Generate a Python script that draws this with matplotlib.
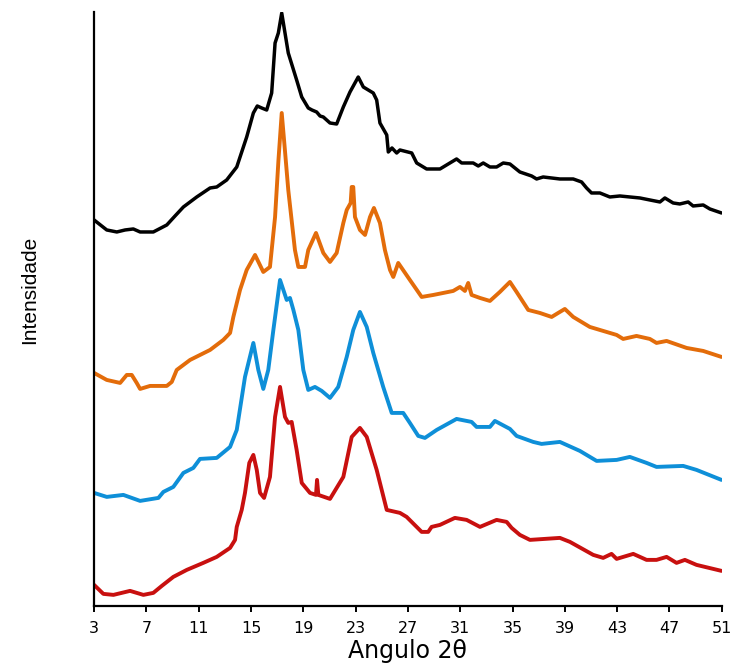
"""Stacked XRD patterns (intensity vs 2-theta) for four samples."""
import numpy as np
import matplotlib
matplotlib.use("Agg")
import matplotlib.pyplot as plt

# 2-theta (deg) and stacked intensity (a.u.) for each pattern, top to bottom
x_black = [3.00, 3.97, 4.74, 5.37, 6.00, 6.52, 7.53, 8.56, 9.19, 9.83, 10.85, 11.87,
           12.38, 13.14, 13.91, 14.29, 14.67, 15.18, 15.48, 15.82, 16.20, 16.58, 16.84,
           17.09, 17.35, 17.60, 17.85, 18.49, 18.88, 19.38, 19.66, 20.02, 20.28, 20.53,
           21.04, 21.55, 22.06, 22.57, 23.20, 23.59, 24.35, 24.61, 24.86, 25.38, 25.50,
           25.78, 26.14, 26.39, 27.29, 27.67, 28.43, 29.45, 30.21, 30.72, 31.11, 31.99,
           32.38, 32.76, 33.27, 33.78, 34.29, 34.80, 35.56, 36.46, 36.84, 37.34, 38.62,
           39.64, 40.28, 40.66, 41.04, 41.68, 42.44, 43.21, 43.97, 44.74, 45.50, 46.27,
           46.65, 47.28, 47.79, 48.43, 48.81, 49.58, 50.09, 50.98]
y_black = [386, 376, 374, 376, 377, 374, 374, 381, 390, 399, 409, 418,
           419, 426, 439, 454, 469, 493, 500, 498, 496, 513, 563,
           573, 593, 573, 553, 526, 509, 498, 496, 494, 490, 489,
           483, 482, 499, 514, 529, 519, 513, 506, 483, 471, 454,
           458, 453, 456, 453, 443, 437, 437, 443, 447, 443, 443,
           440, 443, 439, 439, 443, 442, 434, 430, 427, 429, 427,
           427, 424, 418, 413, 413, 409, 410, 409, 408, 406, 404,
           408, 403, 402, 404, 400, 401, 397, 393]

x_orange = [3.00, 3.97, 4.99, 5.50, 5.88, 6.26, 6.52, 7.28, 8.56, 8.94, 9.32, 10.34,
            11.87, 12.88, 13.40, 13.65, 14.16, 14.67, 15.31, 15.94, 16.45, 16.84, 17.10,
            17.35, 17.56, 17.85, 18.36, 18.62, 19.13, 19.38, 19.97, 20.53, 21.04, 21.55,
            22.06, 22.32, 22.62, 22.70, 22.82, 22.95, 23.33, 23.72, 24.10, 24.40, 24.86,
            25.24, 25.63, 25.88, 26.26, 27.15, 28.05, 28.94, 30.46, 30.98, 31.36, 31.61,
            31.87, 32.51, 33.27, 34.03, 34.80, 35.31, 36.20, 37.09, 37.99, 38.49, 39.00,
            39.64, 40.91, 42.19, 42.96, 43.46, 44.48, 45.50, 46.01, 46.78, 48.31, 49.58,
            50.98]
y_orange = [233, 226, 223, 231, 231, 223, 217, 220, 220, 224, 236, 246,
            256, 266, 273, 289, 316, 336, 351, 334, 339, 389, 446,
            493, 461, 416, 356, 339, 339, 356, 373, 353, 344, 353,
            383, 396, 403, 419, 419, 389, 376, 371, 389, 398, 383,
            356, 336, 329, 343, 326, 309, 311, 315, 319, 315, 323,
            311, 308, 305, 314, 324, 314, 296, 293, 289, 293, 297,
            289, 279, 274, 271, 267, 270, 267, 263, 265, 258, 255,
            249]

x_blue = [3.00, 3.97, 5.24, 6.52, 7.92, 8.30, 9.06, 9.83, 10.59, 11.10, 12.38, 13.40,
          13.91, 14.54, 15.18, 15.56, 15.94, 16.32, 16.71, 17.22, 17.73, 17.98, 18.24,
          18.62, 19.00, 19.38, 19.89, 20.41, 21.04, 21.67, 22.32, 22.82, 23.33, 23.85,
          24.35, 25.11, 25.76, 26.64, 27.15, 27.79, 28.30, 29.20, 30.72, 31.87, 32.25,
          33.27, 33.65, 34.80, 35.31, 36.58, 37.22, 38.62, 40.15, 41.43, 42.96, 43.97,
          45.25, 46.01, 48.05, 49.07, 50.98]
y_blue = [113, 109, 111, 105, 108, 114, 119, 133, 138, 147, 148, 159,
          176, 229, 263, 236, 217, 236, 276, 326, 306, 308, 296,
          276, 236, 216, 219, 215, 208, 219, 249, 276, 294, 279,
          253, 219, 193, 193, 183, 170, 168, 176, 187, 184, 179,
          179, 185, 177, 170, 164, 162, 164, 155, 145, 146, 149,
          143, 139, 140, 136, 126]

x_red = [3.00, 3.71, 4.48, 5.75, 6.77, 7.53, 8.18, 9.06, 10.09, 11.35, 12.38, 13.40,
         13.78, 13.91, 14.29, 14.54, 14.87, 15.18, 15.44, 15.69, 16.00, 16.45, 16.84,
         17.22, 17.60, 17.85, 18.11, 18.49, 18.88, 19.51, 19.97, 20.05, 20.15, 21.04,
         21.55, 22.06, 22.70, 23.33, 23.85, 24.61, 25.38, 26.39, 26.90, 28.05, 28.55,
         28.81, 29.45, 30.59, 31.49, 32.51, 33.78, 34.55, 34.93, 35.56, 36.33, 38.62,
         39.39, 41.17, 41.93, 42.57, 42.96, 44.23, 45.25, 46.01, 46.78, 47.54, 48.18,
         49.07, 50.98]
y_red = [21, 12, 11, 15, 11, 13, 20, 29, 36, 43, 49, 58,
         66, 79, 96, 113, 143, 151, 136, 113, 108, 129, 189,
         219, 189, 183, 184, 156, 123, 113, 111, 126, 111, 107,
         118, 129, 169, 178, 169, 136, 96, 93, 89, 74, 74,
         79, 81, 88, 86, 79, 86, 84, 78, 71, 66, 68,
         64, 51, 48, 52, 47, 52, 46, 46, 49, 43, 46,
         41, 35]

tick_vals = list(range(3, 52, 4))

series = [
    (x_black, y_black, "#000000", 2.5),
    (x_orange, y_orange, "#E36C0A", 2.8),
    (x_blue, y_blue, "#0E8FD8", 2.8),
    (x_red, y_red, "#C8100F", 2.8),
]

fig = plt.figure(figsize=(7.35, 6.68), dpi=100)
ax = fig.add_axes([0.128, 0.093, 0.854, 0.889])

for xs, ys, color, lw in series:
    ax.plot(xs, ys, color=color, lw=lw, solid_joinstyle="round",
            solid_capstyle="round")

ax.set_xlim(3, 51)
ax.set_ylim(0, 594)
ax.set_xticks(tick_vals)
ax.set_xticklabels([str(t) for t in tick_vals])
ax.set_yticks([])

for side in ("top", "right"):
    ax.spines[side].set_visible(False)
for side in ("left", "bottom"):
    ax.spines[side].set_linewidth(1.6)
    ax.spines[side].set_color("black")

ax.tick_params(axis="x", direction="out", length=4, width=1.4, pad=7,
               labelsize=11.5, colors="black")
for lbl in ax.get_xticklabels():
    lbl.set_family("DejaVu Sans")

ax.set_xlabel("Angulo 2θ", fontsize=17, family="DejaVu Sans")
ax.xaxis.set_label_coords(0.5, -0.056)
ax.set_ylabel("Intensidade", fontsize=15, family=["Liberation Sans", "DejaVu Sans"])
ax.yaxis.set_label_coords(-0.088, 0.532)

fig.savefig("out.png", dpi=100)
